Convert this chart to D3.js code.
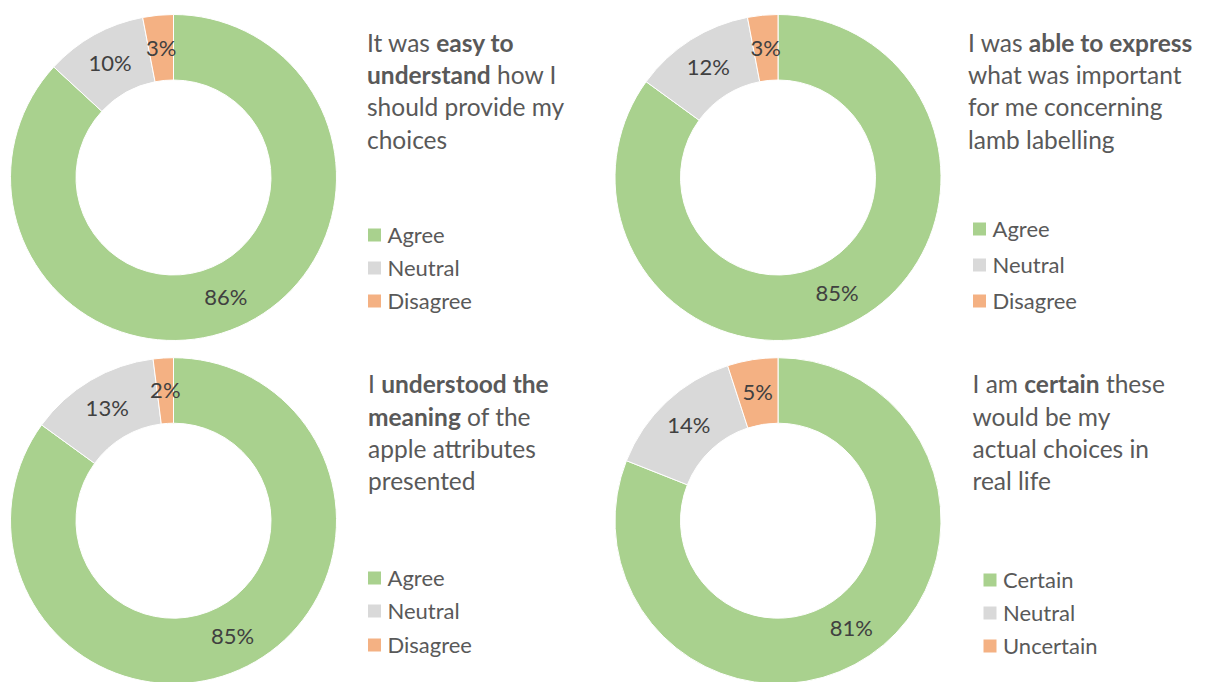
<!DOCTYPE html>
<html>
<head>
<meta charset="utf-8">
<script src="https://cdn.jsdelivr.net/npm/d3@7"></script>
<style>
  html, body { margin: 0; padding: 0; background: #fff; }
  svg { display: block; }
</style>
</head>
<body>
<script>
// Response categories
const agreeCategories = ["Agree", "Neutral", "Disagree"];
const certainCategories = ["Certain", "Neutral", "Uncertain"];

// Share of respondents (%) per statement
const easyValues = [86, 10, 3];
const expressValues = [85, 12, 3];
const meaningValues = [85, 13, 2];
const certainValues = [81, 14, 5];

// Statement titles: each line is a list of [text, bold] runs
const easyTitle = [
  [["It was ", false], ["easy to", true]],
  [["understand", true], [" how I", false]],
  [["should provide my", false]],
  [["choices", false]]
];
const expressTitle = [
  [["I was ", false], ["able to express", true]],
  [["what was important", false]],
  [["for me concerning", false]],
  [["lamb labelling", false]]
];
const meaningTitle = [
  [["I ", false], ["understood the", true]],
  [["meaning", true], [" of the", false]],
  [["apple attributes", false]],
  [["presented", false]]
];
const certainTitle = [
  [["I am ", false], ["certain", true], [" these", false]],
  [["would be my", false]],
  [["actual choices in", false]],
  [["real life", false]]
];

const W = 1207, H = 682;
const FONT = "Lato, 'Open Sans', sans-serif";
const sliceColors = ["#A9D18E", "#D9D9D9", "#F4B183"];

const panels = [
  { values: easyValues, cats: agreeCategories, title: easyTitle,
    cx: 173.5, cy: 177.5, tx: 367, ty: 51.7, lx: 368, ly: [235, 268, 301] },
  { values: expressValues, cats: agreeCategories, title: expressTitle,
    cx: 778, cy: 177.5, tx: 968, ty: 51.7, lx: 973, ly: [229, 265, 301] },
  { values: meaningValues, cats: agreeCategories, title: meaningTitle,
    cx: 173.5, cy: 520.7, tx: 368, ty: 393.3, lx: 368, ly: [578, 611, 645] },
  { values: certainValues, cats: certainCategories, title: certainTitle,
    cx: 778, cy: 520.7, tx: 972.5, ty: 393.3, lx: 983.5, ly: [580, 613, 646] }
];

const outerR = 163, innerR = 97.5;

const svg = d3.select("body").append("svg")
  .attr("width", W).attr("height", H)
  .attr("font-family", FONT);

const pie = d3.pie().sort(null).value(d => d);
const arc = d3.arc().innerRadius(innerR).outerRadius(outerR);
const color = d3.scaleOrdinal().range(sliceColors);

panels.forEach(p => {
  color.domain(p.cats);
  const g = svg.append("g").attr("transform", `translate(${p.cx},${p.cy})`);
  const arcs = pie(p.values);

  g.selectAll("path")
    .data(arcs)
    .join("path")
    .attr("d", arc)
    .attr("fill", (d, i) => color(p.cats[i]))
    .attr("stroke", "#fff")
    .attr("stroke-width", 1);

  g.selectAll("text.value")
    .data(arcs)
    .join("text")
    .attr("class", "value")
    .attr("transform", d => `translate(${arc.centroid(d)})`)
    .attr("text-anchor", "middle")
    .attr("dy", "0.35em")
    .attr("font-size", 22)
    .attr("fill", "#404040")
    .text(d => d3.format("d")(d.data) + "%");

  // Statement title
  const t = svg.append("text")
    .attr("x", p.tx)
    .attr("y", p.ty)
    .attr("font-size", 24.5)
    .attr("fill", "#595959");
  p.title.forEach((line, li) => {
    line.forEach((run, ri) => {
      const ts = t.append("tspan")
        .attr("font-weight", run[1] ? "bold" : "normal")
        .text(run[0]);
      if (ri === 0) ts.attr("x", p.tx).attr("y", p.ty + li * 32.3);
    });
  });

  // Legend
  const lg = svg.append("g");
  p.cats.forEach((c, i) => {
    lg.append("rect")
      .attr("x", p.lx)
      .attr("y", p.ly[i] - 6.5)
      .attr("width", 13)
      .attr("height", 13)
      .attr("fill", color(c));
    lg.append("text")
      .attr("x", p.lx + 19.5)
      .attr("y", p.ly[i])
      .attr("dy", "0.35em")
      .attr("font-size", 22)
      .attr("fill", "#595959")
      .text(c);
  });
});
</script>
</body>
</html>
